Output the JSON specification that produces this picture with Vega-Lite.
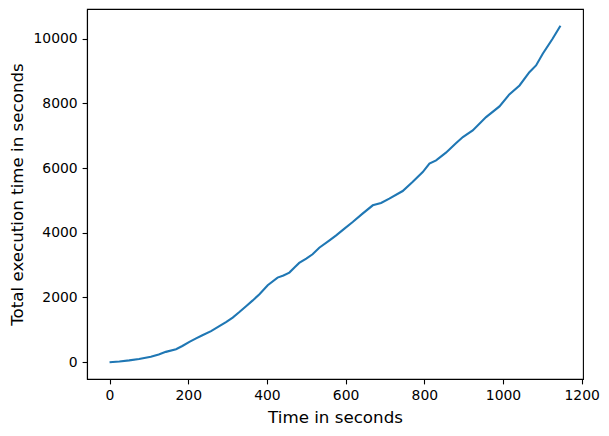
{
  "$schema": "https://vega.github.io/schema/vega-lite/v6.json",
  "width": 496,
  "height": 370,
  "autosize": {"type": "none"},
  "padding": {"left": 87, "top": 9, "right": 26, "bottom": 57},
  "background": "white",
  "config": {
    "view": {"stroke": "black", "strokeWidth": 1.1},
    "axis": {
      "grid": false,
      "domainColor": "black",
      "domainWidth": 1.1,
      "tickColor": "black",
      "tickWidth": 1.1,
      "tickSize": 4.9,
      "labelPadding": 4.9,
      "labelFont": "DejaVu Sans",
      "labelFontSize": 13.9,
      "labelColor": "black",
      "titleFont": "DejaVu Sans",
      "titleFontSize": 16.7,
      "titleFontWeight": "normal",
      "titleColor": "black"
    }
  },
  "data": {
    "values": [
      {"t": 0, "v": 0},
      {"t": 25, "v": 20},
      {"t": 50, "v": 55},
      {"t": 75, "v": 100},
      {"t": 105, "v": 165},
      {"t": 125, "v": 240},
      {"t": 143, "v": 319},
      {"t": 169, "v": 400},
      {"t": 185, "v": 500},
      {"t": 203, "v": 628},
      {"t": 220, "v": 735},
      {"t": 236, "v": 834},
      {"t": 258, "v": 960},
      {"t": 279, "v": 1112},
      {"t": 296, "v": 1240},
      {"t": 313, "v": 1380},
      {"t": 330, "v": 1550},
      {"t": 347, "v": 1730},
      {"t": 364, "v": 1910},
      {"t": 381, "v": 2100},
      {"t": 402, "v": 2379},
      {"t": 427, "v": 2616},
      {"t": 442, "v": 2680},
      {"t": 457, "v": 2770},
      {"t": 470, "v": 2930},
      {"t": 482, "v": 3068},
      {"t": 500, "v": 3200},
      {"t": 516, "v": 3336},
      {"t": 533, "v": 3540},
      {"t": 559, "v": 3769},
      {"t": 576, "v": 3923},
      {"t": 597, "v": 4130},
      {"t": 618, "v": 4335},
      {"t": 643, "v": 4593},
      {"t": 669, "v": 4850},
      {"t": 690, "v": 4922},
      {"t": 711, "v": 5057},
      {"t": 745, "v": 5292},
      {"t": 770, "v": 5570},
      {"t": 796, "v": 5879},
      {"t": 813, "v": 6138},
      {"t": 830, "v": 6240},
      {"t": 855, "v": 6478},
      {"t": 881, "v": 6775},
      {"t": 898, "v": 6960},
      {"t": 923, "v": 7167},
      {"t": 957, "v": 7578},
      {"t": 991, "v": 7909},
      {"t": 1016, "v": 8279},
      {"t": 1042, "v": 8557},
      {"t": 1067, "v": 8968},
      {"t": 1084, "v": 9175},
      {"t": 1101, "v": 9536},
      {"t": 1126, "v": 10000},
      {"t": 1146, "v": 10400}
    ]
  },
  "mark": {"type": "line", "color": "#1f77b4", "strokeWidth": 2.1, "clip": true},
  "encoding": {
    "x": {
      "field": "t",
      "type": "quantitative",
      "scale": {"domain": [-57.3, 1203.3], "nice": false, "zero": false},
      "axis": {"title": "Time in seconds", "format": "d", "values": [0, 200, 400, 600, 800, 1000, 1200], "titlePadding": 7}
    },
    "y": {
      "field": "v",
      "type": "quantitative",
      "scale": {"domain": [-520, 10920], "nice": false, "zero": false},
      "axis": {"title": "Total execution time in seconds", "format": "d", "values": [0, 2000, 4000, 6000, 8000, 10000], "titlePadding": 7}
    }
  }
}
